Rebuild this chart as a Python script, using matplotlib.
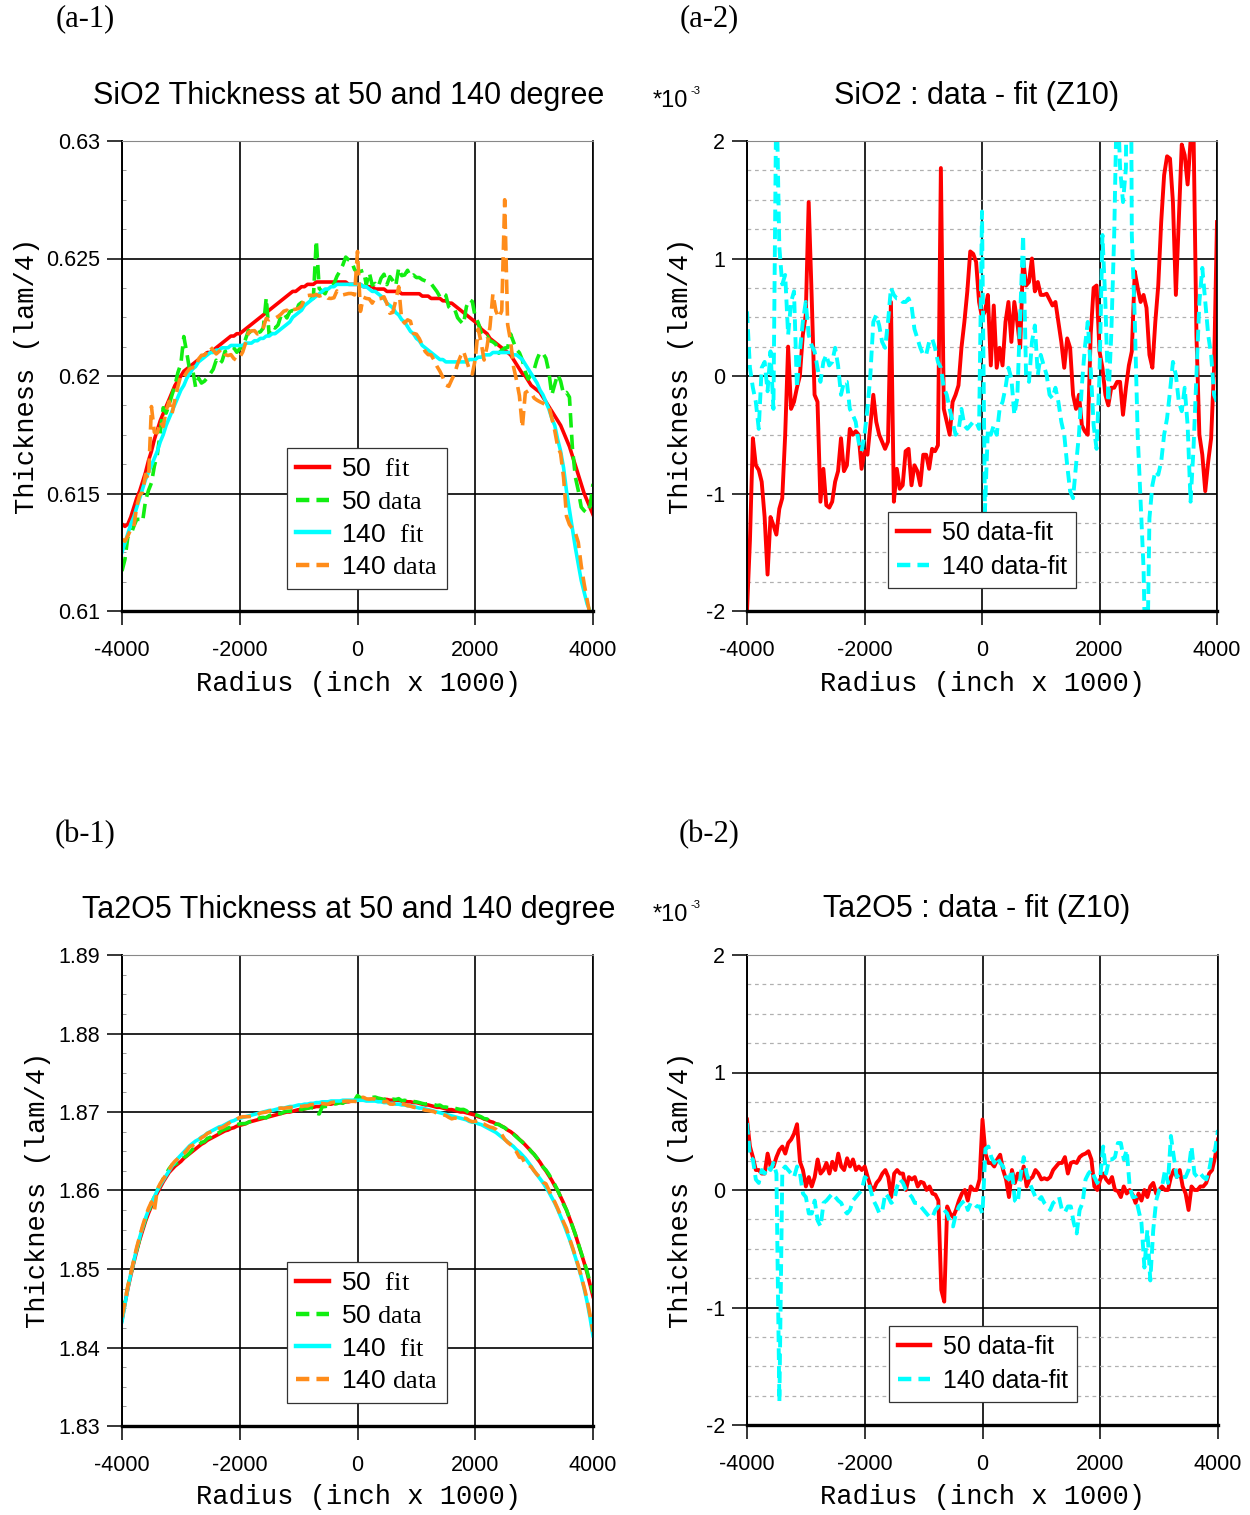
import numpy as np
import matplotlib
matplotlib.use('Agg')
import matplotlib.pyplot as plt
from matplotlib.ticker import AutoMinorLocator, FuncFormatter
from matplotlib.lines import Line2D

plt.rcParams['font.family'] = ['Liberation Sans', 'DejaVu Sans']
plt.rcParams['mathtext.fontset'] = 'custom'
plt.rcParams['mathtext.rm'] = 'Liberation Serif'
plt.rcParams['axes.unicode_minus'] = False

W, H = 1250, 1515

# radius positions of the profile samples (inch x 1000)
radius = np.arange(-4000, 4001, 50)

# SiO2 fitted thickness (lam/4)
sio2_fit_50 = [
    0.6137, 0.6136, 0.6137, 0.6140, 0.6144, 0.6148, 0.6151, 0.6155, 0.6159, 0.6164,
    0.6168, 0.6173, 0.6177, 0.6181, 0.6184, 0.6187, 0.6190, 0.6193, 0.6196, 0.6198,
    0.6200, 0.6202, 0.6203, 0.6204, 0.6205, 0.6206, 0.6207, 0.6208, 0.6209, 0.6210,
    0.6210, 0.6211, 0.6212, 0.6213, 0.6214, 0.6215, 0.6216, 0.6217, 0.6217, 0.6218,
    0.6218, 0.6219, 0.6220, 0.6221, 0.6222, 0.6223, 0.6224, 0.6225, 0.6226, 0.6227,
    0.6228, 0.6229, 0.6230, 0.6231, 0.6232, 0.6233, 0.6234, 0.6235, 0.6236, 0.6236,
    0.6237, 0.6238, 0.6238, 0.6239, 0.6239, 0.6239, 0.6240, 0.6240, 0.6240, 0.6240,
    0.6240, 0.6240, 0.6240, 0.6240, 0.6240, 0.6240, 0.6240, 0.6239, 0.6239, 0.6239,
    0.6239, 0.6239, 0.6238, 0.6238, 0.6238, 0.6238, 0.6237, 0.6237, 0.6237, 0.6237,
    0.6236, 0.6236, 0.6236, 0.6236, 0.6236, 0.6235, 0.6235, 0.6235, 0.6235, 0.6235,
    0.6235, 0.6235, 0.6234, 0.6234, 0.6234, 0.6233, 0.6233, 0.6233, 0.6233, 0.6232,
    0.6232, 0.6231, 0.6231, 0.6230, 0.6229, 0.6228, 0.6227, 0.6226, 0.6225, 0.6224,
    0.6223, 0.6222, 0.6220, 0.6219, 0.6218, 0.6216, 0.6215, 0.6214, 0.6213, 0.6212,
    0.6211, 0.6210, 0.6209, 0.6207, 0.6205, 0.6203, 0.6201, 0.6200, 0.6198, 0.6196,
    0.6195, 0.6194, 0.6193, 0.6191, 0.6189, 0.6187, 0.6185, 0.6183, 0.6181, 0.6179,
    0.6176, 0.6173, 0.6170, 0.6166, 0.6162, 0.6158, 0.6154, 0.6150, 0.6147, 0.6144,
    0.6141]
sio2_fit_140 = [
    0.6125, 0.6129, 0.6133, 0.6137, 0.6140, 0.6144, 0.6148, 0.6152, 0.6156, 0.6159,
    0.6162, 0.6165, 0.6168, 0.6172, 0.6175, 0.6179, 0.6182, 0.6185, 0.6188, 0.6191,
    0.6194, 0.6196, 0.6199, 0.6201, 0.6203, 0.6204, 0.6206, 0.6207, 0.6208, 0.6209,
    0.6210, 0.6210, 0.6211, 0.6211, 0.6212, 0.6212, 0.6212, 0.6213, 0.6213, 0.6213,
    0.6213, 0.6213, 0.6214, 0.6214, 0.6214, 0.6215, 0.6215, 0.6216, 0.6216, 0.6217,
    0.6217, 0.6218, 0.6218, 0.6219, 0.6220, 0.6221, 0.6222, 0.6223, 0.6225, 0.6226,
    0.6227, 0.6228, 0.6230, 0.6231, 0.6232, 0.6233, 0.6234, 0.6235, 0.6236, 0.6237,
    0.6237, 0.6238, 0.6238, 0.6239, 0.6239, 0.6239, 0.6239, 0.6239, 0.6239, 0.6239,
    0.6239, 0.6239, 0.6238, 0.6238, 0.6237, 0.6236, 0.6236, 0.6235, 0.6234, 0.6233,
    0.6231, 0.6230, 0.6229, 0.6227, 0.6226, 0.6224, 0.6223, 0.6221, 0.6219, 0.6218,
    0.6216, 0.6215, 0.6213, 0.6212, 0.6211, 0.6210, 0.6209, 0.6208, 0.6207, 0.6207,
    0.6206, 0.6206, 0.6206, 0.6206, 0.6206, 0.6206, 0.6206, 0.6206, 0.6207, 0.6207,
    0.6207, 0.6208, 0.6208, 0.6209, 0.6209, 0.6209, 0.6210, 0.6210, 0.6210, 0.6210,
    0.6210, 0.6210, 0.6210, 0.6209, 0.6209, 0.6208, 0.6207, 0.6205, 0.6203, 0.6201,
    0.6199, 0.6197, 0.6194, 0.6192, 0.6189, 0.6186, 0.6182, 0.6179, 0.6173, 0.6168,
    0.6161, 0.6151, 0.6143, 0.6135, 0.6127, 0.6120, 0.6113, 0.6108, 0.6103, 0.6100,
    0.6099]

# SiO2 residual data - fit (x 1e-3)
sio2_res_50 = [
    -2.0, -1.4, -0.53, -0.76, -0.8, -0.9, -1.2, -1.69, -1.2, -1.27,
    -1.35, -1.13, -1.04, -0.5, 0.25, -0.28, -0.22, -0.1, 0.0, 0.35,
    0.52, 1.48, 0.69, -0.16, -0.22, -1.07, -0.79, -1.1, -1.12, -1.07,
    -0.9, -0.81, -0.53, -0.81, -0.76, -0.45, -0.5, -0.47, -0.5, -0.79,
    -0.64, -0.67, -0.42, -0.16, -0.39, -0.5, -0.56, -0.62, -0.56, 0.63,
    -1.07, -0.79, -0.96, -0.93, -0.64, -0.62, -0.93, -0.76, -0.81, -0.93,
    -0.67, -0.67, -0.79, -0.62, -0.64, -0.59, 1.77, -0.28, -0.39, -0.5,
    -0.22, -0.16, -0.08, 0.24, 0.46, 0.72, 1.06, 1.04, 0.97, 0.63,
    0.5, 0.55, 0.69, 0.09, 0.6, 0.07, 0.24, 0.09, 0.46, 0.63,
    0.29, 0.63, 0.46, 0.24, 1.0, 0.77, 0.8, 1.0, 0.72, 0.8,
    0.69, 0.69, 0.7, 0.65, 0.6, 0.63, 0.46, 0.29, 0.07, 0.32,
    0.24, -0.16, -0.28, -0.16, -0.42, -0.47, -0.5, 0.35, 0.75, 0.77,
    0.21, 0.07, -0.16, -0.25, -0.1, -0.1, -0.05, -0.05, -0.33, -0.1,
    0.09, 0.21, 0.89, 0.75, 0.63, 0.69, 0.58, 0.18, 0.07, 0.46,
    0.77, 1.31, 1.71, 1.87, 1.85, 1.48, 0.69, 1.34, 1.97, 1.88,
    1.63, 2.0, 2.1, 0.35, -0.5, -0.67, -0.98, -0.73, -0.53, 0.07,
    1.31]
sio2_res_140 = [
    0.55, 0.07, -0.1, -0.22, -0.45, 0.07, 0.12, -0.13, 0.21, -0.28,
    2.5, 1.1, 0.78, 0.86, 0.35, 0.63, 0.72, -0.1, 0.21, 0.46,
    0.63, 0.35, 0.26, 0.21, 0.07, -0.05, 0.12, 0.18, 0.09, 0.12,
    0.24, 0.09, -0.16, -0.05, -0.05, -0.28, -0.33, -0.39, -0.56, -0.64,
    -0.5, -0.28, 0.01, 0.46, 0.52, 0.43, 0.29, 0.24, 0.46, 0.75,
    0.69, 0.66, 0.66, 0.63, 0.63, 0.66, 0.6, 0.4, 0.32, 0.24,
    0.18, 0.18, 0.29, 0.32, 0.24, 0.12, 0.07, -0.1, -0.16, -0.28,
    -0.39, -0.5, -0.47, -0.28, -0.42, -0.45, -0.42, -0.39, -0.39, -0.45,
    1.4, -1.15, -0.45, -0.5, -0.42, -0.5, -0.28, -0.22, -0.1, 0.07,
    -0.02, -0.33, -0.19, 0.52, 1.2, 0.01, -0.05, 0.29, 0.43, 0.01,
    0.18, 0.09, 0.01, -0.16, -0.19, -0.1, -0.22, -0.39, -0.5, -0.76,
    -0.98, -1.04, -0.76, -0.5, -0.08, 0.24, 0.46, 0.07, -0.42, -0.62,
    0.01, 1.2, 0.63, -0.22, 0.35, 1.2, 2.5, 1.77, 1.48, 1.77,
    6.5, 1.2, 0.49, -0.5, -1.07, -1.64, -2.9, -1.21, -0.93, -0.81,
    -0.84, -0.73, -0.5, -0.36, -0.13, 0.12, 0.01, -0.22, -0.3, -0.1,
    -0.42, -1.07, -0.62, 0.01, 0.63, 0.92, 0.63, 0.35, 0.18, -0.16,
    -0.22]

# Ta2O5 fitted thickness (lam/4)
ta2o5_fit_50 = [
    1.8435, 1.8456, 1.8475, 1.8492, 1.8508, 1.8523, 1.8537, 1.8549, 1.8561, 1.8571,
    1.8580, 1.8589, 1.8597, 1.8604, 1.8611, 1.8617, 1.8623, 1.8627, 1.8631, 1.8634,
    1.8637, 1.8641, 1.8644, 1.8647, 1.8650, 1.8653, 1.8656, 1.8659, 1.8661, 1.8664,
    1.8666, 1.8668, 1.8670, 1.8672, 1.8674, 1.8676, 1.8677, 1.8679, 1.8680, 1.8682,
    1.8683, 1.8684, 1.8685, 1.8687, 1.8688, 1.8689, 1.8690, 1.8691, 1.8692, 1.8693,
    1.8694, 1.8695, 1.8696, 1.8697, 1.8698, 1.8699, 1.8700, 1.8700, 1.8701, 1.8702,
    1.8703, 1.8703, 1.8704, 1.8705, 1.8706, 1.8706, 1.8707, 1.8707, 1.8708, 1.8709,
    1.8710, 1.8710, 1.8711, 1.8711, 1.8712, 1.8712, 1.8713, 1.8713, 1.8714, 1.8714,
    1.8715, 1.8715, 1.8715, 1.8715, 1.8716, 1.8716, 1.8716, 1.8716, 1.8716, 1.8716,
    1.8716, 1.8715, 1.8715, 1.8715, 1.8715, 1.8714, 1.8714, 1.8713, 1.8713, 1.8712,
    1.8712, 1.8711, 1.8710, 1.8709, 1.8709, 1.8708, 1.8707, 1.8706, 1.8706, 1.8705,
    1.8704, 1.8703, 1.8703, 1.8702, 1.8701, 1.8700, 1.8700, 1.8699, 1.8698, 1.8697,
    1.8696, 1.8694, 1.8693, 1.8691, 1.8690, 1.8688, 1.8687, 1.8685, 1.8684, 1.8682,
    1.8680, 1.8677, 1.8675, 1.8672, 1.8669, 1.8665, 1.8662, 1.8658, 1.8654, 1.8650,
    1.8646, 1.8641, 1.8636, 1.8630, 1.8625, 1.8619, 1.8613, 1.8606, 1.8600, 1.8592,
    1.8584, 1.8575, 1.8565, 1.8555, 1.8544, 1.8532, 1.8520, 1.8508, 1.8495, 1.8480,
    1.8465]
ta2o5_fit_140 = [
    1.8433, 1.8455, 1.8476, 1.8494, 1.8510, 1.8526, 1.8540, 1.8553, 1.8565, 1.8575,
    1.8584, 1.8592, 1.8600, 1.8607, 1.8613, 1.8619, 1.8625, 1.8631, 1.8636, 1.8641,
    1.8645, 1.8649, 1.8653, 1.8657, 1.8660, 1.8663, 1.8665, 1.8668, 1.8670, 1.8673,
    1.8675, 1.8677, 1.8679, 1.8681, 1.8682, 1.8684, 1.8686, 1.8688, 1.8689, 1.8691,
    1.8692, 1.8693, 1.8694, 1.8695, 1.8696, 1.8697, 1.8698, 1.8699, 1.8700, 1.8701,
    1.8702, 1.8702, 1.8703, 1.8704, 1.8705, 1.8705, 1.8706, 1.8707, 1.8707, 1.8708,
    1.8709, 1.8709, 1.8710, 1.8710, 1.8711, 1.8711, 1.8712, 1.8712, 1.8713, 1.8713,
    1.8713, 1.8714, 1.8714, 1.8714, 1.8714, 1.8715, 1.8715, 1.8715, 1.8715, 1.8715,
    1.8715, 1.8715, 1.8715, 1.8714, 1.8714, 1.8714, 1.8714, 1.8713, 1.8713, 1.8712,
    1.8712, 1.8711, 1.8711, 1.8710, 1.8710, 1.8709, 1.8709, 1.8708, 1.8708, 1.8707,
    1.8706, 1.8705, 1.8705, 1.8704, 1.8703, 1.8702, 1.8701, 1.8700, 1.8699, 1.8698,
    1.8697, 1.8696, 1.8695, 1.8694, 1.8693, 1.8692, 1.8691, 1.8690, 1.8688, 1.8687,
    1.8687, 1.8685, 1.8684, 1.8682, 1.8680, 1.8678, 1.8676, 1.8674, 1.8671, 1.8668,
    1.8665, 1.8662, 1.8659, 1.8656, 1.8652, 1.8649, 1.8645, 1.8641, 1.8636, 1.8631,
    1.8625, 1.8620, 1.8615, 1.8610, 1.8604, 1.8598, 1.8591, 1.8584, 1.8576, 1.8567,
    1.8558, 1.8548, 1.8538, 1.8527, 1.8515, 1.8503, 1.8490, 1.8475, 1.8458, 1.8438,
    1.8415]

# Ta2O5 residual data - fit (x 1e-3)
ta2o5_res_50 = [
    0.6, 0.37, 0.28, 0.17, 0.17, 0.14, 0.14, 0.31, 0.2, 0.2,
    0.28, 0.34, 0.37, 0.31, 0.4, 0.43, 0.48, 0.56, 0.24, 0.17,
    0.03, 0.11, 0.03, 0.11, 0.26, 0.14, 0.17, 0.23, 0.14, 0.24,
    0.17, 0.31, 0.2, 0.17, 0.27, 0.2, 0.26, 0.17, 0.2, 0.17,
    0.2, 0.11, 0.03, 0.0, 0.06, 0.09, 0.14, 0.17, 0.11, -0.06,
    0.14, 0.17, 0.14, 0.14, 0.0, 0.11, 0.09, 0.11, 0.03, 0.07,
    0.06, 0.0, 0.03, -0.03, -0.04, -0.09, -0.85, -0.95, -0.14, -0.2,
    -0.23, -0.17, -0.09, -0.03, 0.0, -0.09, 0.03, 0.0, 0.0, 0.09,
    0.6, 0.31, 0.23, 0.23, 0.2, 0.26, 0.3, 0.17, 0.09, -0.06,
    0.17, 0.06, 0.14, 0.09, 0.2, 0.03, 0.09, 0.11, 0.17, 0.14,
    0.09, 0.1, 0.09, 0.11, 0.17, 0.2, 0.23, 0.23, 0.28, 0.14,
    0.23, 0.24, 0.23, 0.28, 0.3, 0.31, 0.33, 0.26, 0.03, 0.0,
    0.09, 0.14, 0.09, 0.06, 0.11, 0.0, -0.01, -0.06, 0.03, -0.03,
    0.0, -0.04, -0.11, -0.03, -0.09, 0.0, -0.06, 0.03, 0.06, -0.03,
    0.0, 0.03, 0.0, 0.0, 0.11, 0.17, 0.11, 0.17, 0.03, -0.03,
    -0.17, 0.03, 0.0, 0.0, 0.03, 0.03, 0.06, 0.14, 0.17, 0.28,
    0.43]
ta2o5_res_140 = [
    0.57, 0.28, 0.26, 0.09, 0.06, 0.17, 0.14, 0.2, 0.17, 0.23,
    0.14, -1.8, 0.17, 0.2, 0.17, 0.14, 0.11, 0.2, 0.14, -0.03,
    -0.06, -0.2, -0.2, -0.09, -0.26, -0.31, -0.11, -0.09, -0.06, -0.03,
    -0.06, -0.09, -0.11, -0.17, -0.2, -0.17, -0.09, -0.06, -0.03, 0.0,
    0.11, 0.09, 0.0, -0.09, -0.14, -0.2, -0.17, -0.03, -0.06, -0.11,
    -0.09, 0.03, 0.09, 0.06, 0.0, -0.03, -0.06, -0.11, -0.11, -0.14,
    -0.17, -0.2, -0.23, -0.23, -0.17, -0.14, -0.17, -0.17, -0.2, -0.28,
    -0.31, -0.2, -0.14, -0.11, -0.09, -0.17, -0.11, -0.11, -0.14, -0.14,
    -0.2, 0.35, 0.37, 0.28, 0.23, 0.28, 0.23, 0.2, 0.11, 0.09,
    0.17, -0.09, -0.11, 0.14, 0.28, 0.14, 0.06, 0.0, -0.06, -0.09,
    -0.06, -0.11, -0.14, -0.17, -0.11, -0.09, -0.06, -0.17, -0.19, -0.14,
    -0.14, -0.28, -0.37, -0.17, -0.11, 0.09, 0.14, 0.17, 0.11, 0.06,
    0.11, 0.37, 0.14, 0.26, 0.26, 0.28, 0.4, 0.4, 0.26, 0.34,
    0.03, -0.06, -0.06, -0.17, -0.28, -0.66, -0.34, -0.77, -0.34, -0.09,
    0.0, 0.03, 0.17, 0.06, 0.46, 0.28, 0.11, 0.14, 0.11, 0.11,
    0.17, 0.37, 0.14, 0.11, 0.14, 0.11, 0.09, 0.17, 0.31, 0.34,
    0.51]

x_ticks = [-4000, -2000, 0, 2000, 4000]
sio2_ticks = [0.61, 0.615, 0.62, 0.625, 0.63]
ta2o5_ticks = [1.83, 1.84, 1.85, 1.86, 1.87, 1.88, 1.89]
res_ticks = [-2, -1, 0, 1, 2]

RED = '#ff0000'
GREEN = '#11ee11'
CYAN = '#00ffff'
ORANGE = '#ff8c1a'

fig = plt.figure(figsize=(W / 100, H / 100), dpi=100)


def px_axes(left, top, right, bottom):
    return fig.add_axes([left / W, 1 - bottom / H, (right - left) / W, (bottom - top) / H])


def ftext(x, y, s, **kw):
    kw.setdefault('ha', 'center')
    kw.setdefault('va', 'center')
    fig.text(x / W, 1 - y / H, s, **kw)


def style_axes(ax, yticks, ylim, minor_grid):
    ax.set_xlim(-4000, 4000)
    ax.set_ylim(*ylim)
    ax.set_xticks(x_ticks)
    ax.set_yticks(yticks)
    ax.yaxis.set_major_formatter(FuncFormatter(lambda v, p: f'{v:g}'))
    ax.grid(True, which='major', color='black', lw=1.2)
    ax.yaxis.set_minor_locator(AutoMinorLocator(4))
    if minor_grid:
        ax.grid(True, which='minor', axis='y', color='#b0b0b0', lw=0.9, ls=(0, (3, 3)))
        ax.tick_params(axis='y', which='minor', length=0)
    else:
        ax.tick_params(axis='y', which='minor', direction='in', length=3, color='#888888')
    ax.tick_params(axis='x', which='major', direction='out', length=10, width=1.1,
                   pad=11, labelsize=15.5)
    ax.tick_params(axis='y', which='major', direction='out', length=11, width=1.1,
                   pad=5, labelsize=15.5)
    ax.set_axisbelow(True)
    ax.spines['top'].set_color('#888888')
    ax.spines['top'].set_linewidth(0.8)
    ax.spines['right'].set_linewidth(1.2)
    ax.spines['left'].set_linewidth(1.4)
    ax.spines['bottom'].set_linewidth(2.4)


def thickness_panel(ax, fit50, res50, fit140, res140, yticks, ylim, legend_xy):
    f50 = np.array(fit50)
    f140 = np.array(fit140)
    d50 = f50 + np.array(res50) * 1e-3
    d140 = f140 + np.array(res140) * 1e-3
    ax.plot(radius, f50, color=RED, lw=2.6)
    ax.plot(radius, d50, color=GREEN, lw=2.6, dashes=(4, 2))
    ax.plot(radius, f140, color=CYAN, lw=2.6)
    ax.plot(radius, d140, color=ORANGE, lw=2.6, dashes=(4, 2))
    style_axes(ax, yticks, ylim, False)
    handles = [Line2D([], [], color=RED, lw=3.2),
               Line2D([], [], color=GREEN, lw=3.2, dashes=(3, 1.6)),
               Line2D([], [], color=CYAN, lw=3.2),
               Line2D([], [], color=ORANGE, lw=3.2, dashes=(3, 1.6))]
    labels = ['50  $\\mathrm{fit}$', '50 $\\mathrm{data}$',
              '140  $\\mathrm{fit}$', '140 $\\mathrm{data}$']
    leg = ax.legend(handles, labels, loc='upper left',
                    bbox_to_anchor=(legend_xy[0] / W, 1 - legend_xy[1] / H),
                    bbox_transform=fig.transFigure, fontsize=19, frameon=True,
                    fancybox=False, framealpha=1, edgecolor='#333333',
                    handlelength=1.25, handletextpad=0.45, labelspacing=0.33,
                    borderpad=0.35, borderaxespad=0)
    leg.get_frame().set_linewidth(0.9)


def residual_panel(ax, res50, res140, legend_xy):
    ax.plot(radius, res50, color=RED, lw=2.8)
    ax.plot(radius, res140, color=CYAN, lw=2.8, dashes=(3, 1.6))
    style_axes(ax, res_ticks, (-2, 2), True)
    handles = [Line2D([], [], color=RED, lw=3.2),
               Line2D([], [], color=CYAN, lw=3.2, dashes=(3, 1.6))]
    leg = ax.legend(handles, ['50 data-fit', '140 data-fit'], loc='upper left',
                    bbox_to_anchor=(legend_xy[0] / W, 1 - legend_xy[1] / H),
                    bbox_transform=fig.transFigure, fontsize=18, frameon=True,
                    fancybox=False, framealpha=1, edgecolor='#333333',
                    handlelength=1.3, handletextpad=0.5, labelspacing=0.4,
                    borderpad=0.35, borderaxespad=0)
    leg.get_frame().set_linewidth(0.9)


ax1 = px_axes(122, 141, 593, 611)
thickness_panel(ax1, sio2_fit_50, sio2_res_50, sio2_fit_140, sio2_res_140,
                sio2_ticks, (0.61, 0.63), (287, 448))
ax2 = px_axes(747, 141, 1217, 611)
residual_panel(ax2, sio2_res_50, sio2_res_140, (888, 512))
ax3 = px_axes(122, 955, 593, 1426)
thickness_panel(ax3, ta2o5_fit_50, ta2o5_res_50, ta2o5_fit_140, ta2o5_res_140,
                ta2o5_ticks, (1.83, 1.89), (287, 1262))
ax4 = px_axes(747, 955, 1218, 1425)
residual_panel(ax4, ta2o5_res_50, ta2o5_res_140, (889, 1326))

# titles
ftext(349, 96, 'SiO2 Thickness at 50 and 140 degree', fontsize=22)
ftext(977, 96, 'SiO2 : data - fit (Z10)', fontsize=22)
ftext(349, 910, 'Ta2O5 Thickness at 50 and 140 degree', fontsize=22)
ftext(977, 909, 'Ta2O5 : data - fit (Z10)', fontsize=22)

# panel tags
for tx, ty, tag in [(85, 19, '(a-1)'), (709, 19, '(a-2)'),
                    (85, 835, '(b-1)'), (709, 835, '(b-2)')]:
    ftext(tx, ty, tag, fontsize=22, family='Liberation Serif')

# scale markers for the residual panels
for base in (101, 915):
    ftext(653, base, '*10', fontsize=17, ha='left')
    ftext(690, base - 10, '-3', fontsize=8, ha='left')

# axis labels
mono = dict(fontsize=19.5, family='Liberation Mono')
for cx, cy in [(358, 684), (982, 684), (358, 1497), (983, 1497)]:
    ftext(cx, cy, 'Radius (inch x 1000)', **mono)
for cx, cy in [(27, 376), (681, 376), (38, 1190), (681, 1190)]:
    ftext(cx, cy, 'Thickness (lam/4)', rotation=90, **mono)

fig.savefig('out.png', dpi=100)
